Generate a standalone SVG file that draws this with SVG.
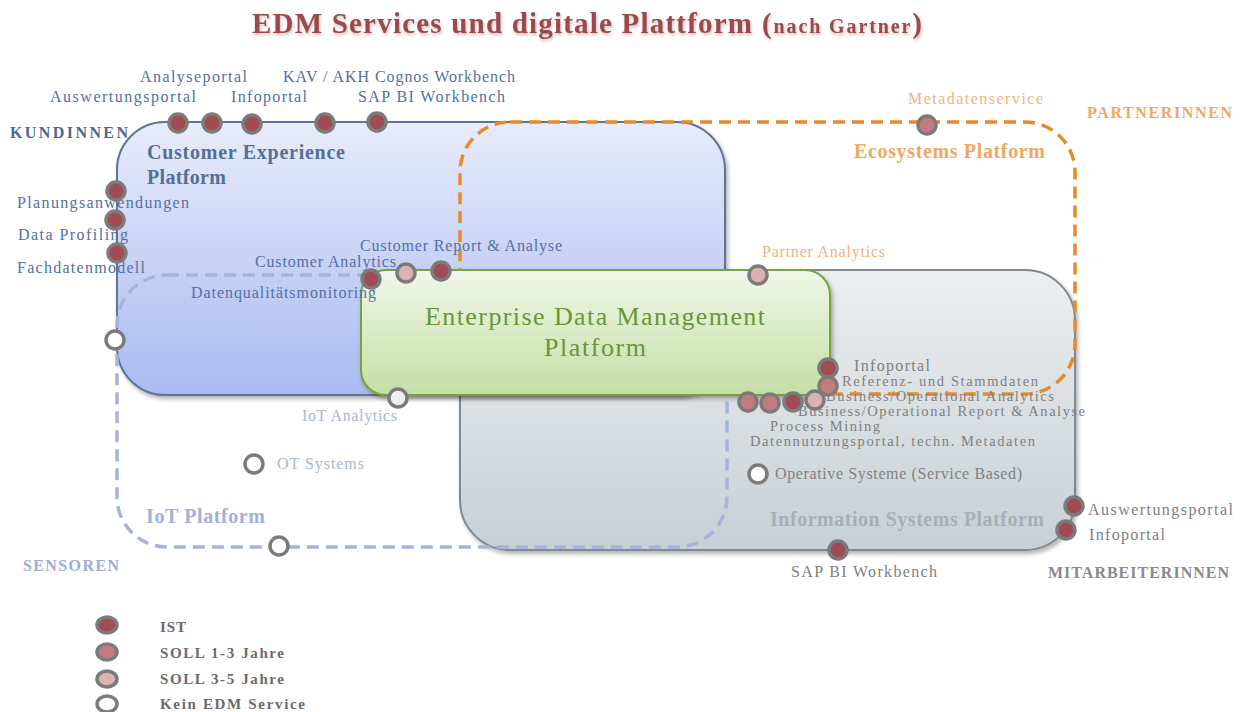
<svg xmlns="http://www.w3.org/2000/svg" width="1241" height="712" viewBox="0 0 1241 712">
  <defs>
    <linearGradient id="gBlue" x1="0" y1="0" x2="0" y2="1">
      <stop offset="0" stop-color="#e8ecfb"/>
      <stop offset="1" stop-color="#a8baf0"/>
    </linearGradient>
    <linearGradient id="gGray" x1="0" y1="0" x2="0" y2="1">
      <stop offset="0" stop-color="#eceef0"/>
      <stop offset="1" stop-color="#c8d0d5"/>
    </linearGradient>
    <linearGradient id="gGreen" x1="0" y1="0" x2="0" y2="1">
      <stop offset="0" stop-color="#f0f7e9"/>
      <stop offset="1" stop-color="#c3e0a4"/>
    </linearGradient>
    <filter id="shadow" x="-5%" y="-5%" width="112%" height="115%">
      <feDropShadow dx="2" dy="3" stdDeviation="2" flood-color="#000" flood-opacity="0.3"/>
    </filter>
    <filter id="titleShadow" x="-5%" y="-30%" width="110%" height="170%">
      <feDropShadow dx="1" dy="2" stdDeviation="1.5" flood-color="#7a3030" flood-opacity="0.35"/>
    </filter>
    <style>
      text { font-family: "Liberation Serif", "DejaVu Serif", serif; }
      .lbl { font-size: 16px; }
      .tight { font-size: 14.5px; }
      .blue { fill: #5470a6; }
      .iot { fill: #a9b6dc; }
      .orange { fill: #f2b27e; }
      .gray { fill: #808080; }
      .head { font-size: 20px; font-weight: bold; }
      .corner { font-size: 16px; font-weight: bold; }
      .legend { font-size: 15px; font-weight: bold; fill: #6b6b6b; }
      .pt { stroke: #7b7b7b; stroke-width: 3.5; }
      .ist { fill: #a04c52; }
      .s13 { fill: #c47b7f; }
      .s35 { fill: #dcb2b4; }
      .none { fill: #ffffff; }
      .dash { fill: none; stroke-width: 3.5; stroke-dasharray: 12 7; }
    </style>
  </defs>

  <!-- Title -->
  <g id="title" fill="#9b4a4c" font-weight="bold" filter="url(#titleShadow)">
    <text x="252" y="33" font-size="29" textLength="500">EDM Services und digitale Plattform</text>
    <text x="762" y="33" textLength="160"><tspan font-size="29">(</tspan><tspan font-size="20">nach Gartner</tspan><tspan font-size="29">)</tspan></text>
  </g>

  <!-- Information Systems Platform (back layer) -->
  <g id="information-systems-platform">
    <rect x="460" y="270" width="615" height="280" rx="50" fill="url(#gGray)" stroke="#7f8a93" stroke-width="2" filter="url(#shadow)"/>
  </g>

  <!-- Customer Experience Platform -->
  <g id="customer-experience-platform">
    <rect x="117" y="122" width="608" height="273" rx="48" fill="url(#gBlue)" stroke="#5b7598" stroke-width="2" filter="url(#shadow)"/>
  </g>

  <!-- IoT Platform (dashed outline) -->
  <g id="iot-platform">
    <rect class="dash" x="117" y="275" width="610" height="272" rx="50" stroke="#a6b4dd"/>
  </g>

  <!-- Ecosystems Platform (dashed outline) -->
  <g id="ecosystems-platform">
    <rect class="dash" x="460" y="122" width="615" height="272" rx="50" stroke="#e8892b"/>
  </g>

  <!-- Enterprise Data Management Platform -->
  <g id="edm-platform">
    <rect x="361" y="270" width="469" height="125" rx="25" fill="url(#gGreen)" stroke="#76a33c" stroke-width="2" filter="url(#shadow)"/>
    <text x="595" y="325" font-size="26" fill="#6a963a" text-anchor="middle" textLength="340">Enterprise Data Management</text>
    <text x="595" y="356" font-size="26" fill="#6a963a" text-anchor="middle" textLength="102">Platform</text>
  </g>

  <!-- Platform headings and audience labels -->
  <g id="headings">
    <text class="head" x="147" y="159" fill="#566f94" textLength="198">Customer Experience</text>
    <text class="head" x="147" y="184" fill="#566f94" textLength="79">Platform</text>
    <text class="head" x="854" y="158" fill="#f0a764" textLength="191">Ecosystems Platform</text>
    <text class="head" x="770" y="526" fill="#a9aeb3" textLength="274">Information Systems Platform</text>
    <text class="head" x="146" y="523" fill="#a3b0da" textLength="119">IoT Platform</text>
    <text class="corner" x="10" y="138" fill="#4e6891" textLength="118">KUNDINNEN</text>
    <text class="corner" x="1087" y="118" fill="#f0a868" textLength="145">PARTNERINNEN</text>
    <text class="corner" x="23" y="571" fill="#9eacd8" textLength="96">SENSOREN</text>
    <text class="corner" x="1048" y="578" fill="#8a8a8a" textLength="181">MITARBEITERINNEN</text>
  </g>

  <!-- Service labels -->
  <g id="service-labels" class="lbl">
    <text class="blue" x="140" y="82" textLength="107">Analyseportal</text>
    <text class="blue" x="283" y="82" textLength="232">KAV / AKH Cognos Workbench</text>
    <text class="blue" x="50" y="102" textLength="146">Auswertungsportal</text>
    <text class="blue" x="231" y="102" textLength="76">Infoportal</text>
    <text class="blue" x="358" y="102" textLength="147">SAP BI Workbench</text>
    <text class="blue" x="17" y="208" textLength="172">Planungsanwendungen</text>
    <text class="blue" x="18" y="240" textLength="110">Data Profiling</text>
    <text class="blue" x="17" y="273" textLength="128">Fachdatenmodell</text>
    <text class="blue" x="360" y="251" textLength="202">Customer Report &amp; Analyse</text>
    <text class="blue" x="255" y="267" textLength="141">Customer Analytics</text>
    <text class="blue" x="191" y="298" textLength="185">Datenqualitätsmonitoring</text>
    <text class="iot" x="302" y="421" textLength="95">IoT Analytics</text>
    <text class="iot" x="277" y="469" textLength="87">OT Systems</text>
    <text class="orange" x="762" y="257" textLength="123">Partner Analytics</text>
    <text class="orange" x="908" y="104" textLength="135">Metadatenservice</text>
    <text class="gray" x="854" y="371" textLength="76">Infoportal</text>
    <text class="gray tight" x="842" y="386" textLength="196">Referenz- und Stammdaten</text>
    <text class="gray tight" x="826" y="401" textLength="228">Business/Operational Analytics</text>
    <text class="gray tight" x="798" y="416" textLength="287">Business/Operational Report &amp; Analyse</text>
    <text class="gray tight" x="770" y="431" textLength="110">Process Mining</text>
    <text class="gray tight" x="750" y="446" textLength="285">Datennutzungsportal, techn. Metadaten</text>
    <text class="gray" x="775" y="479" textLength="247">Operative Systeme (Service Based)</text>
    <text class="gray" x="1088" y="515" textLength="145">Auswertungsportal</text>
    <text class="gray" x="1089" y="540" textLength="76">Infoportal</text>
    <text class="gray" x="791" y="577" textLength="146">SAP BI Workbench</text>
  </g>

  <!-- Service points -->
  <g id="service-points" class="pt">
    <circle class="ist" cx="178" cy="123" r="9"/>
    <circle class="ist" cx="212" cy="123" r="9"/>
    <circle class="ist" cx="252" cy="124" r="9"/>
    <circle class="ist" cx="325" cy="123" r="9"/>
    <circle class="ist" cx="377" cy="122" r="9"/>
    <circle class="ist" cx="116" cy="191" r="9"/>
    <circle class="ist" cx="115" cy="220" r="9"/>
    <circle class="ist" cx="117" cy="253" r="9"/>
    <circle class="none" cx="115" cy="340" r="9"/>
    <circle class="ist" cx="371" cy="279" r="9"/>
    <circle class="s35" cx="406" cy="273" r="9"/>
    <circle class="ist" cx="441" cy="271" r="9"/>
    <circle class="s35" cx="758" cy="275" r="9"/>
    <circle class="s13" cx="927" cy="125" r="9"/>
    <circle cx="398" cy="398" r="9" fill="#f0f0f0"/>
    <circle class="none" cx="254" cy="464" r="9"/>
    <circle class="none" cx="279" cy="546" r="9"/>
    <circle class="ist" cx="828" cy="368" r="9"/>
    <circle class="s13" cx="828" cy="386" r="9"/>
    <circle class="s13" cx="748" cy="402" r="9"/>
    <circle class="s13" cx="770" cy="403" r="9"/>
    <circle class="ist" cx="793" cy="402" r="9"/>
    <circle class="s35" cx="815" cy="400" r="9"/>
    <circle class="none" cx="758" cy="474" r="9"/>
    <circle class="ist" cx="1074" cy="506" r="9"/>
    <circle class="ist" cx="1066" cy="530" r="9"/>
    <circle class="ist" cx="838" cy="550" r="9"/>
  </g>

  <!-- Legend -->
  <g id="legend">
    <g class="pt">
      <ellipse class="ist" cx="107" cy="625" rx="10" ry="8"/>
      <ellipse class="s13" cx="107" cy="652" rx="10" ry="8"/>
      <ellipse class="s35" cx="107" cy="679" rx="10" ry="8"/>
      <ellipse class="none" cx="107" cy="704" rx="10" ry="8"/>
    </g>
    <text class="legend" x="160" y="632" textLength="26">IST</text>
    <text class="legend" x="160" y="658" textLength="124">SOLL 1-3 Jahre</text>
    <text class="legend" x="160" y="684" textLength="124">SOLL 3-5 Jahre</text>
    <text class="legend" x="160" y="709" textLength="145">Kein EDM Service</text>
  </g>
</svg>
